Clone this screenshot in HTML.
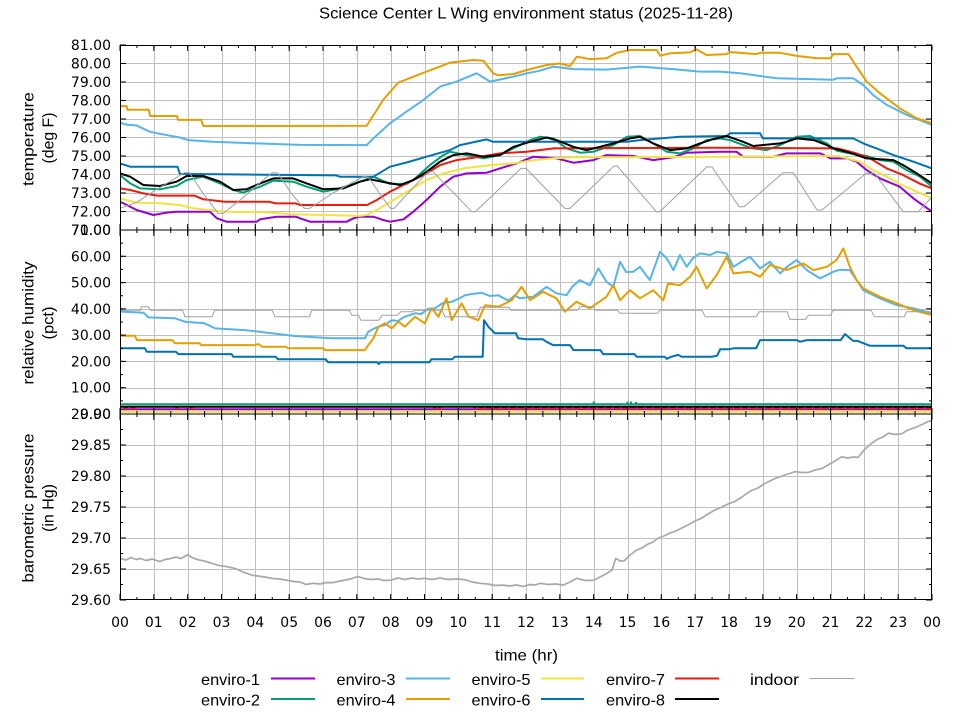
<!DOCTYPE html>
<html>
<head>
<meta charset="utf-8">
<style>
  html,body{margin:0;padding:0;background:#fff;}
  svg{display:block;}
  .tk{font-family:"DejaVu Sans","Liberation Sans",sans-serif;font-size:14px;fill:#000;}
  .lb{font-family:"Liberation Sans","DejaVu Sans",sans-serif;font-size:16px;fill:#000;}
</style>
</head>
<body>
<svg width="960" height="720" viewBox="0 0 960 720" xmlns="http://www.w3.org/2000/svg">
  <rect x="0" y="0" width="960" height="720" fill="#fff"/>
  <defs>
    <clipPath id="c1"><rect x="120" y="45" width="812" height="185"/></clipPath>
    <clipPath id="c2"><rect x="120" y="230" width="812" height="184"/></clipPath>
    <clipPath id="c3"><rect x="120" y="414" width="812" height="186"/></clipPath>
  </defs>

  <!-- grid -->
  <g stroke="#c0c0c0" stroke-width="1" fill="none">
    <path d="M154.5,45V600M188.5,45V600M222.5,45V600M255.5,45V600M289.5,45V600M323.5,45V600M357.5,45V600M391.5,45V600M425.5,45V600M458.5,45V600M492.5,45V600M526.5,45V600M560.5,45V600M594.5,45V600M628.5,45V600M661.5,45V600M695.5,45V600M729.5,45V600M763.5,45V600M797.5,45V600M831.5,45V600M864.5,45V600M898.5,45V600"/>
    <path d="M120,63.5H932M120,82.5H932M120,100.5H932M120,119.5H932M120,137.5H932M120,156.5H932M120,174.5H932M120,193.5H932M120,211.5H932M120,256.5H932M120,282.5H932M120,309.5H932M120,335.5H932M120,361.5H932M120,388.5H932M120,445.5H932M120,476.5H932M120,507.5H932M120,538.5H932M120,569.5H932"/>
  </g>

  <!-- temperature panel -->
  <g clip-path="url(#c1)" fill="none" stroke-width="2" stroke-linejoin="round">
    <polyline stroke="#9400d3" points="120,201.7 126.8,205 136.6,210 153.5,215 166.7,212.6 176.5,211.7 210,211.7 216.8,218.3 226.6,221.7 256.7,221.7 260.1,219.3 276.6,216.7 295.9,216.7 300,218.3 310.1,221.7 346.7,221.7 353.4,218.3 359.9,216.7 373.4,216.7 383.2,220 390,221.7 403.5,219.3 413.3,211.7 426.5,200 440.1,186.7 453.3,176.7 466.8,173.4 486.7,172.7 499.9,168.4 516.5,163.4 533.4,156.7 556.4,158.4 573.4,162.7 593.3,160.1 606.5,155.1 633.2,156 653.2,160.1 673.2,157.3 686.7,152.7 719.9,151.7 736.4,151.7 743.2,156.7 773,156.7 786.5,153.4 820.4,153.4 830.5,158.4 847.4,158.4 856.5,161.7 866.7,170.1 879.9,178.4 899.8,186.7 913.4,198.4 932,211.7"/>
    <polyline stroke="#009e73" points="120,175.1 130.2,183.4 140,188.4 159.9,189.3 176.5,186 186.7,180 203.2,176.7 220.1,183.4 233.3,190 243.2,192.6 260.1,186.7 273.3,180.6 293.2,181.7 306.8,186.7 323.3,191.7 336.5,189.3 353.4,183.9 359.9,181.7 373.4,176.7 390,183.9 406.6,183.9 413.3,180 429.9,165.1 443.4,155.1 449.9,151.7 466.8,155.1 483.4,158.4 499.9,155.1 516.5,146.8 530.1,140.1 539.9,136.8 553.4,138.4 566.6,148.4 580.1,152.7 593.3,151.7 613.3,145.1 626.8,136.8 640,136 653.2,143.4 666.7,151.7 679.9,153.4 693.5,148.4 706.7,140.1 719.9,138.4 730,140.1 743.2,145.1 753.3,148.4 766.6,150.1 780.1,145.1 796.7,136.8 810.2,136 826.8,143.4 836.6,150.6 849.8,153.4 866.7,156 879.9,160.1 893.4,161.7 906.6,170.1 920.2,176.7 932,186.7"/>
    <polyline stroke="#56b4e9" points="120,122.7 126.8,124.6 136.6,125.5 150.1,131.8 159.9,133.8 179.9,137.5 188.3,140.1 213.4,141.8 256.7,143.4 300,144.9 366.6,145.1 373.4,138.4 390,123.3 406.6,111.6 423.5,99.9 440.1,86.6 456.6,81.6 476.6,73.3 490.1,81.6 513.5,76.6 526.7,73.3 539.9,70.7 553.4,66.6 573.4,69.1 606.5,69.6 640,66.6 673.2,69.1 699.9,71.6 719.9,71.6 740.2,73.3 776.7,78.3 833.2,79.8 836.6,78.3 853.2,78.3 863.3,85 873.1,95 886.7,104.9 906.6,114.9 932,124.9"/>
    <polyline stroke="#e69f00" points="120,106.1 126.8,106.1 127.4,109.8 148.8,109.8 150.1,116 176.8,116 178.2,119.9 201.2,119.9 203.2,126 366.6,125.8 376.8,110 383.2,99.9 398.1,82.7 411.6,77.4 426.5,71.6 440.1,66.6 449.9,62.6 473.2,60 483.4,60.7 493.2,73.3 498.3,75.3 513.5,74 526.7,70 546.6,65 559.8,63.5 570,66.1 576.8,56.7 589.9,59.1 606.5,58.3 616.7,52.8 629.9,50 656.6,50 660,55.7 670.1,53.3 690.1,52.4 696.5,49.4 706.7,55 726.6,54.1 730,52 756.7,54.1 760.1,52.8 779.7,52.8 796.7,55.9 817,58.3 830.5,58.3 833.2,54.1 848.4,54.1 856.5,66.6 866.7,81.6 879.9,93.3 899.8,108.3 916.8,118.3 932,123.3"/>
    <polyline stroke="#f0e442" points="120,198.4 136.6,202.6 159.9,203.2 179.9,205 193.4,208.4 226.6,211.7 266.8,212.4 293.2,214.3 359.9,215.9 366.6,215 376.8,210 393.4,200 410,190 426.5,180 443.4,173.4 463.4,168.4 490.1,165.1 513.5,163.4 533.4,160.1 553.4,158.4 573.4,157.3 699.9,156.9 837.3,156 845.7,157.9 859.9,161.7 873.1,170.1 886.7,176.7 899.8,183.9 916.8,191.7 932,198.4"/>
    <polyline stroke="#0072b2" points="120,163.4 130.2,166.7 177.5,166.7 179.9,173.9 336.5,175.4 339.9,176.7 373.4,176.7 390,166.7 406.6,162.5 426.5,156.7 449.9,150.1 460,145.1 486.7,139.4 493.2,141.8 626.8,141.8 640,140.1 679.9,136.8 726.6,136 730,133.3 760.1,133.3 762.8,138.4 853.2,138.4 863.3,143.4 876.5,148.4 893.4,155.1 913.4,161.7 932,168.4"/>
    <polyline stroke="#e51e10" points="120,188.4 130.2,190 143.3,193.4 157.2,195.6 194.4,195.6 203.2,199.3 224.9,201.7 268.9,201.7 275.6,203.4 295.9,203.4 300,205 367,205 376.8,200 390,191.7 406.6,183.4 423.5,175.1 440.1,165.1 456.6,160.1 480,156.7 499.9,153.4 526.7,151.7 553.4,148.4 719.9,147.7 837.3,148.4 845.7,150.5 856.5,153.4 870.1,158.4 886.7,168.4 903.2,175.1 920.2,183.8 932,188.4"/>
    <polyline stroke="#000000" points="120,173.4 130.2,176.7 143.3,185 159.9,186 176.5,181.7 186.7,176 203.2,176 220.1,181.7 233.3,190 246.5,189.3 260.1,183.4 273.3,178.4 293.2,178.4 306.8,183.4 323.3,189.3 343.3,188.4 359.9,181.7 370,179.3 386.6,182.6 400.1,185 413.3,180 426.5,171.8 440.1,161.7 453.3,155.1 466.8,153.4 483.4,156.7 499.9,155.1 513.5,146.8 530.1,141.8 546.6,137.5 556.4,140.1 573.4,146.8 586.6,150.1 599.8,146.8 613.3,143.4 629.9,138.4 640,136.8 653.2,143.4 670.1,150.1 686.7,148.4 699.9,143.4 712.1,139.4 726.6,136 743.2,141.8 753.3,146 780.1,143.4 786.5,141.8 796.7,138.4 813.6,140.1 826.8,145.1 833.2,148.4 849.8,152.7 866.7,158.4 893.4,160.1 903.2,165.1 916.8,173.4 932,183.4"/>
    <polyline stroke="#a0a0a0" stroke-width="1" points="120,208.4 136.9,202.3 153.8,191.2 170.7,181 184.3,172.7 189.4,172.7 202.9,193 218.1,213.4 223.2,213.4 241.8,198.6 258.7,183.8 272.2,172.7 277.3,172.7 292.5,194.9 304.4,208.4 309.5,208.4 333.1,193 363.6,176.4 368.7,177.3 380.5,194.9 390.7,208.4 394,208.4 427.9,171.8 433,171.8 471.9,211.7 475.3,211.7 520.9,168.4 526,168.4 564.9,208.4 570,208.4 614,166 617.3,166 656.3,211.7 659.6,211.7 707,166.8 712.1,167.1 739.1,206.7 744.2,206.7 783.1,172.7 793.3,172.7 817,210 822,210 866,173.4 874.5,173.4 903.2,211.7 918.5,211.7 932,196.7"/>
  </g>

  <!-- humidity panel -->
  <g clip-path="url(#c2)" fill="none" stroke-width="2" stroke-linejoin="round">
    <line x1="120" y1="409.2" x2="932" y2="409.2" stroke="#9400d3"/>
    <line x1="120" y1="404.2" x2="932" y2="404.2" stroke="#009e73"/>
    <path d="M593.7,404V401.5M627.5,404V401.5M631,404V401.5M636,404V402" stroke="#009e73"/>
    <polyline stroke="#56b4e9" points="120,311.5 143.7,312.8 148.4,317.4 175.1,318.3 185,321.7 204.6,323.3 215.1,328.4 244.8,330.1 265.5,332.5 294.9,336 331.8,338.3 364.9,338.3 368.3,331.7 373,329 378.5,326.7 385,325 391.7,320.2 398,321 404,317 415,313.3 421,314 428,309 435,308.3 443,303 451.6,301.8 458,299 465.1,295.2 472,294 481.7,292.8 490,296 498.3,295.2 508.4,300.7 514.8,295.2 519.9,298.3 533.1,296.8 546.6,286.8 556.4,293.3 566.6,295.2 572,287 579.8,280.1 589.9,285.2 598.4,268.4 606.5,281.8 613.3,286.8 620.1,261.8 626,272 633.2,271.8 640,266.8 649.8,280.1 660,251.8 666.7,258.4 673.5,270.1 679.9,255 686.7,266.8 693,258 699.9,253.4 710.1,255 716.8,251.8 726.6,253.4 733.4,266.8 741,262 750,256.8 760.1,268.4 769.9,261.8 780.1,273.4 788,266 796.7,259.9 806.8,270.1 820,278.4 833.2,271.8 840,269.7 849.8,270.1 856.5,280.1 863.3,290.2 879.9,298.3 896.8,305.2 913.4,308.3 932,313.3"/>
    <polyline stroke="#e69f00" points="120,335.7 134.9,335.7 136.9,340.1 172.4,340.1 175.1,343.3 199.5,343.3 201.5,345.1 255,345.1 258.4,344.1 262.1,346.7 285.8,346.7 288.2,348.3 323,348.3 325,350.1 364.9,350.1 368.3,345.1 373.4,338.3 378.5,326.7 384.9,323.3 391.7,328.3 398.5,321.7 404.9,326.7 415,316.7 424.8,323.3 431.6,308.3 438.4,316.7 446.5,298.3 451.6,320.2 461.7,303.3 468.5,316.7 478.3,320.2 485.1,305.2 498.3,306.8 511.8,300.2 521.6,286.8 530.1,300.2 543.2,291.8 556.4,298.3 564.9,311.7 576.4,301.8 589.9,308.3 606.5,296.8 613.3,285.2 620.1,300.2 629.9,290.2 640,298.3 653.2,290.2 663.3,300.2 668.1,283.4 679.9,285.2 690.1,276.8 696.5,266.8 706.7,288.4 716.8,274.9 726.6,256.8 733.4,273.4 750,271.8 760.1,276.8 769.9,265 786.5,270.1 803.4,263.4 813.2,270.1 826.8,266.8 836.6,259.9 843.4,248.4 849.8,266.8 856.5,280.1 863.3,288.4 879.9,296.8 896.8,303.3 913.4,310.2 932,315.2"/>
    <line x1="120" y1="411.8" x2="932" y2="411.8" stroke="#f0e442"/>
    <polyline stroke="#0072b2" points="120,348.3 145,348.3 146.7,351.7 175.8,351.7 178.2,354.1 231.6,354.1 233.3,356.7 275.6,356.7 278,359.3 325.7,359.3 328.1,362.2 377.1,362.2 378.8,364.1 380.5,362.2 429.6,362.2 431.3,359.3 452.2,359.3 454.9,356.7 482.7,356.7 484,320.2 488.8,327.3 491.5,329.9 494.9,333.3 515.9,333.3 518.2,338.3 526,339.3 542.9,339.3 546.3,341.7 553.1,345.1 570,345.1 573.4,350.1 600.4,350.1 603.1,354.1 634.3,354.1 636.6,356.7 664.7,356.7 666.7,358.8 671.5,356.7 678.2,354.9 681.6,356.7 712.1,356.7 717.2,355.6 720.2,349.3 729,349.3 733.4,348.3 756.1,348.3 760.1,340.1 796.7,340.1 800.1,341.7 806.8,340.1 840.6,340.1 845,334.1 853.2,340.9 857.6,340.9 869.7,345.7 903.2,345.7 906.6,348.3 932,348.3"/>
    <line x1="478" y1="408.5" x2="932" y2="408.5" stroke="#e51e10" stroke-dasharray="6 2"/>
    <path d="M124,408.5h4M131,408.5h4M175,408.5h3M190,408.5h3M433,408.5h3M438,408.5h3M473,408.5h3" stroke="#e51e10"/>
    <line x1="120" y1="406.7" x2="932" y2="406.7" stroke="#000000"/>
    <path stroke="#a0a0a0" stroke-width="1" d="M120,310.2H140.3L141.7,306.8H148.4L150.4,310.2H182.6L185,316.7H212L214.7,310.2H272.2L274.9,316.7H309.5L311.8,310.2H349.4L351.7,315.2H358.5L360.9,320.2H378.8L382.2,315.2H397.4L400.8,311.7H412.6L415,310.2H442.1L444.8,316.7H476.9L480.3,307.3H509.1L510.8,310.2H577.4L579.8,306.8H593.3L595.7,310.2H617.3L620.1,313.3H657.3L660,310.2H701.9L705.3,316.7H756.1L759.4,311.7H787.2L789.9,319.4H805.1L808.5,315.2H830.5L833.2,310.2H871.1L874.5,316.7H904.2L906.6,311.7H932"/>
  </g>

  <!-- pressure panel -->
  <g clip-path="url(#c3)" fill="none">
    <polyline stroke="#a8a8a8" stroke-width="1.7" stroke-linejoin="round" points="120,558.5 126,560 131,557.5 136,559.5 140.3,558.5 146,560.5 152,559 159.9,561.6 165,559.5 170.7,558.5 176,557 181,558.5 187.7,554.7 192,557.5 197.8,559.7 204,561 211,563 218.1,565.3 226,566.5 235,568.4 243,572 251.9,575.2 258,576 265.5,577.1 272,578.5 279,578.9 286,580 292.5,581.4 300,582 306,584.5 312.8,583.3 320,584 326,582.5 333.1,582.6 340,581 346,580 352,578.5 357.8,576.4 364,578.5 370.4,579.5 378,579 384,580.5 390.7,580.2 398,578 405,579.5 412,578 418,579 424.5,578.3 432,579.5 440,578 448,579.5 458.3,578.9 466,580 472,582 480,583.3 488,584 495,585.5 502.3,585.1 510,586 516,585 523.6,586.4 530,584.5 535,585 540.2,583.3 548,584.5 556,584 563.2,585.1 570,582 576.8,578.3 585,580.5 593.7,580.2 600,577 607.2,573.3 612,570 615.7,558.5 620,561 624.1,560.9 630,555 637,549.8 642,548 647.8,544.2 653,542 658.3,538 664,536 670,533 676,531 681.6,528.1 688,525 695,521 701.6,518.2 708,514 714.8,510.1 722,507 728,504 735.1,501.4 742,497 746,494 751.7,490.3 758,488 764,484 770,481 775,478.5 782,476 788,474 795,471.7 802,472.5 808.5,472.3 815,470 821.7,468.6 828,465 835,461 841.7,456.8 848,458 853,457 858.2,457.4 864,450 871.8,443.1 878,439 883,437 888.3,433.2 895,434.5 901.5,433.8 908,430 915.1,427.6 922,424.5 927,422 932,420.2"/>
  </g>

  <!-- frames -->
  <g fill="none" stroke="#000" stroke-width="1">
    <rect x="120.5" y="45.5" width="811" height="184.5"/>
    <rect x="120.5" y="230" width="811" height="184"/>
    <rect x="120.5" y="414" width="811" height="185.5"/>
  </g>
  <!-- x ticks (major every hour, minor every half hour) -->
  <g stroke="#000" fill="none">
    <line x1="119.5" y1="48" x2="933" y2="48" stroke-width="6" stroke-dasharray="1 32.8333"/>
    <line x1="119.5" y1="46.5" x2="933" y2="46.5" stroke-width="3" stroke-dasharray="1 15.9167"/>
    <line x1="119.5" y1="227" x2="933" y2="227" stroke-width="6" stroke-dasharray="1 32.8333"/>
    <line x1="119.5" y1="228.5" x2="933" y2="228.5" stroke-width="3" stroke-dasharray="1 15.9167"/>
    <line x1="119.5" y1="233" x2="933" y2="233" stroke-width="6" stroke-dasharray="1 32.8333"/>
    <line x1="119.5" y1="231.5" x2="933" y2="231.5" stroke-width="3" stroke-dasharray="1 15.9167"/>
    <line x1="119.5" y1="411" x2="933" y2="411" stroke-width="6" stroke-dasharray="1 32.8333"/>
    <line x1="119.5" y1="412.5" x2="933" y2="412.5" stroke-width="3" stroke-dasharray="1 15.9167"/>
    <line x1="119.5" y1="417" x2="933" y2="417" stroke-width="6" stroke-dasharray="1 32.8333"/>
    <line x1="119.5" y1="415.5" x2="933" y2="415.5" stroke-width="3" stroke-dasharray="1 15.9167"/>
    <line x1="119.5" y1="597" x2="933" y2="597" stroke-width="6" stroke-dasharray="1 32.8333"/>
    <line x1="119.5" y1="598.5" x2="933" y2="598.5" stroke-width="3" stroke-dasharray="1 15.9167"/>
    <!-- y ticks top panel -->
    <line x1="123" y1="44.5" x2="123" y2="231" stroke-width="6" stroke-dasharray="1 17.5"/>
    <line x1="929" y1="44.5" x2="929" y2="231" stroke-width="6" stroke-dasharray="1 17.5"/>
    <!-- y ticks middle panel -->
    <line x1="123" y1="229.5" x2="123" y2="415" stroke-width="6" stroke-dasharray="1 25.2857"/>
    <line x1="121.5" y1="229.5" x2="121.5" y2="415" stroke-width="3" stroke-dasharray="1 12.1429"/>
    <line x1="929" y1="229.5" x2="929" y2="415" stroke-width="6" stroke-dasharray="1 25.2857"/>
    <line x1="930.5" y1="229.5" x2="930.5" y2="415" stroke-width="3" stroke-dasharray="1 12.1429"/>
    <!-- y ticks bottom panel -->
    <line x1="123" y1="413.5" x2="123" y2="601" stroke-width="6" stroke-dasharray="1 30"/>
    <line x1="121.5" y1="413.5" x2="121.5" y2="601" stroke-width="3" stroke-dasharray="1 14.5"/>
    <line x1="929" y1="413.5" x2="929" y2="601" stroke-width="6" stroke-dasharray="1 30"/>
    <line x1="930.5" y1="413.5" x2="930.5" y2="601" stroke-width="3" stroke-dasharray="1 14.5"/>
  </g>

  <!-- title -->
  <text class="lb" x="526" y="18.5" text-anchor="middle" textLength="414" lengthAdjust="spacingAndGlyphs">Science Center L Wing environment status (2025-11-28)</text>

  <!-- y axis labels -->
  <text class="lb" transform="translate(33.5,139) rotate(-90)" text-anchor="middle" textLength="94" lengthAdjust="spacingAndGlyphs">temperature</text>
  <text class="lb" transform="translate(53.5,138) rotate(-90)" text-anchor="middle" textLength="51" lengthAdjust="spacingAndGlyphs">(deg F)</text>
  <text class="lb" transform="translate(33.5,323) rotate(-90)" text-anchor="middle" textLength="123" lengthAdjust="spacingAndGlyphs">relative humidity</text>
  <text class="lb" transform="translate(53.5,323) rotate(-90)" text-anchor="middle" textLength="33" lengthAdjust="spacingAndGlyphs">(pct)</text>
  <text class="lb" transform="translate(33.5,508) rotate(-90)" text-anchor="middle" textLength="149" lengthAdjust="spacingAndGlyphs">barometric pressure</text>
  <text class="lb" transform="translate(53.5,508) rotate(-90)" text-anchor="middle" textLength="48" lengthAdjust="spacingAndGlyphs">(in Hg)</text>

  <!-- y tick labels -->
  <g class="tk" text-anchor="end">
    <text x="111" y="50">81.00</text>
    <text x="111" y="68.5">80.00</text>
    <text x="111" y="87">79.00</text>
    <text x="111" y="105.5">78.00</text>
    <text x="111" y="124">77.00</text>
    <text x="111" y="142.5">76.00</text>
    <text x="111" y="161">75.00</text>
    <text x="111" y="179.5">74.00</text>
    <text x="111" y="198">73.00</text>
    <text x="111" y="216.5">72.00</text>
    <text x="111" y="235">71.00</text>
    <text x="111" y="235">70.00</text>
    <text x="111" y="261.3">60.00</text>
    <text x="111" y="287.6">50.00</text>
    <text x="111" y="313.9">40.00</text>
    <text x="111" y="340.1">30.00</text>
    <text x="111" y="366.4">20.00</text>
    <text x="111" y="392.7">10.00</text>
    <text x="111" y="419">0.00</text>
    <text x="111" y="419">29.90</text>
    <text x="111" y="450">29.85</text>
    <text x="111" y="481">29.80</text>
    <text x="111" y="512">29.75</text>
    <text x="111" y="543">29.70</text>
    <text x="111" y="574">29.65</text>
    <text x="111" y="605">29.60</text>
  </g>

  <!-- x tick labels -->
  <g class="tk" text-anchor="middle">
    <text x="120" y="627">00</text>
    <text x="153.8" y="627">01</text>
    <text x="187.7" y="627">02</text>
    <text x="221.5" y="627">03</text>
    <text x="255.3" y="627">04</text>
    <text x="289.2" y="627">05</text>
    <text x="323" y="627">06</text>
    <text x="356.8" y="627">07</text>
    <text x="390.7" y="627">08</text>
    <text x="424.5" y="627">09</text>
    <text x="458.3" y="627">10</text>
    <text x="492.2" y="627">11</text>
    <text x="526" y="627">12</text>
    <text x="559.8" y="627">13</text>
    <text x="593.7" y="627">14</text>
    <text x="627.5" y="627">15</text>
    <text x="661.3" y="627">16</text>
    <text x="695.2" y="627">17</text>
    <text x="729" y="627">18</text>
    <text x="762.8" y="627">19</text>
    <text x="796.7" y="627">20</text>
    <text x="830.5" y="627">21</text>
    <text x="864.3" y="627">22</text>
    <text x="898.2" y="627">23</text>
    <text x="932" y="627">00</text>
  </g>

  <text class="lb" x="526.5" y="660.5" text-anchor="middle" textLength="63" lengthAdjust="spacingAndGlyphs">time (hr)</text>

  <!-- legend -->
  <g class="lb" text-anchor="end">
    <text x="260" y="685" textLength="59" lengthAdjust="spacingAndGlyphs">enviro-1</text>
    <text x="260" y="705.5" textLength="59" lengthAdjust="spacingAndGlyphs">enviro-2</text>
    <text x="395.5" y="685" textLength="59" lengthAdjust="spacingAndGlyphs">enviro-3</text>
    <text x="395.5" y="705.5" textLength="59" lengthAdjust="spacingAndGlyphs">enviro-4</text>
    <text x="530.5" y="685" textLength="59" lengthAdjust="spacingAndGlyphs">enviro-5</text>
    <text x="530.5" y="705.5" textLength="59" lengthAdjust="spacingAndGlyphs">enviro-6</text>
    <text x="665" y="685" textLength="59" lengthAdjust="spacingAndGlyphs">enviro-7</text>
    <text x="665" y="705.5" textLength="59" lengthAdjust="spacingAndGlyphs">enviro-8</text>
    <text x="799" y="685" textLength="49" lengthAdjust="spacingAndGlyphs">indoor</text>
  </g>
  <g stroke-width="2" fill="none">
    <line x1="271" y1="678.5" x2="315" y2="678.5" stroke="#9400d3"/>
    <line x1="271" y1="699" x2="315" y2="699" stroke="#009e73"/>
    <line x1="406" y1="678.5" x2="450" y2="678.5" stroke="#56b4e9"/>
    <line x1="406" y1="699" x2="450" y2="699" stroke="#e69f00"/>
    <line x1="541" y1="678.5" x2="584" y2="678.5" stroke="#f0e442"/>
    <line x1="541" y1="699" x2="584" y2="699" stroke="#0072b2"/>
    <line x1="675" y1="678.5" x2="719" y2="678.5" stroke="#e51e10"/>
    <line x1="675" y1="699" x2="719" y2="699" stroke="#000000"/>
    <line x1="810" y1="678.5" x2="854" y2="678.5" stroke="#a0a0a0" stroke-width="1"/>
  </g>
</svg>
</body>
</html>
